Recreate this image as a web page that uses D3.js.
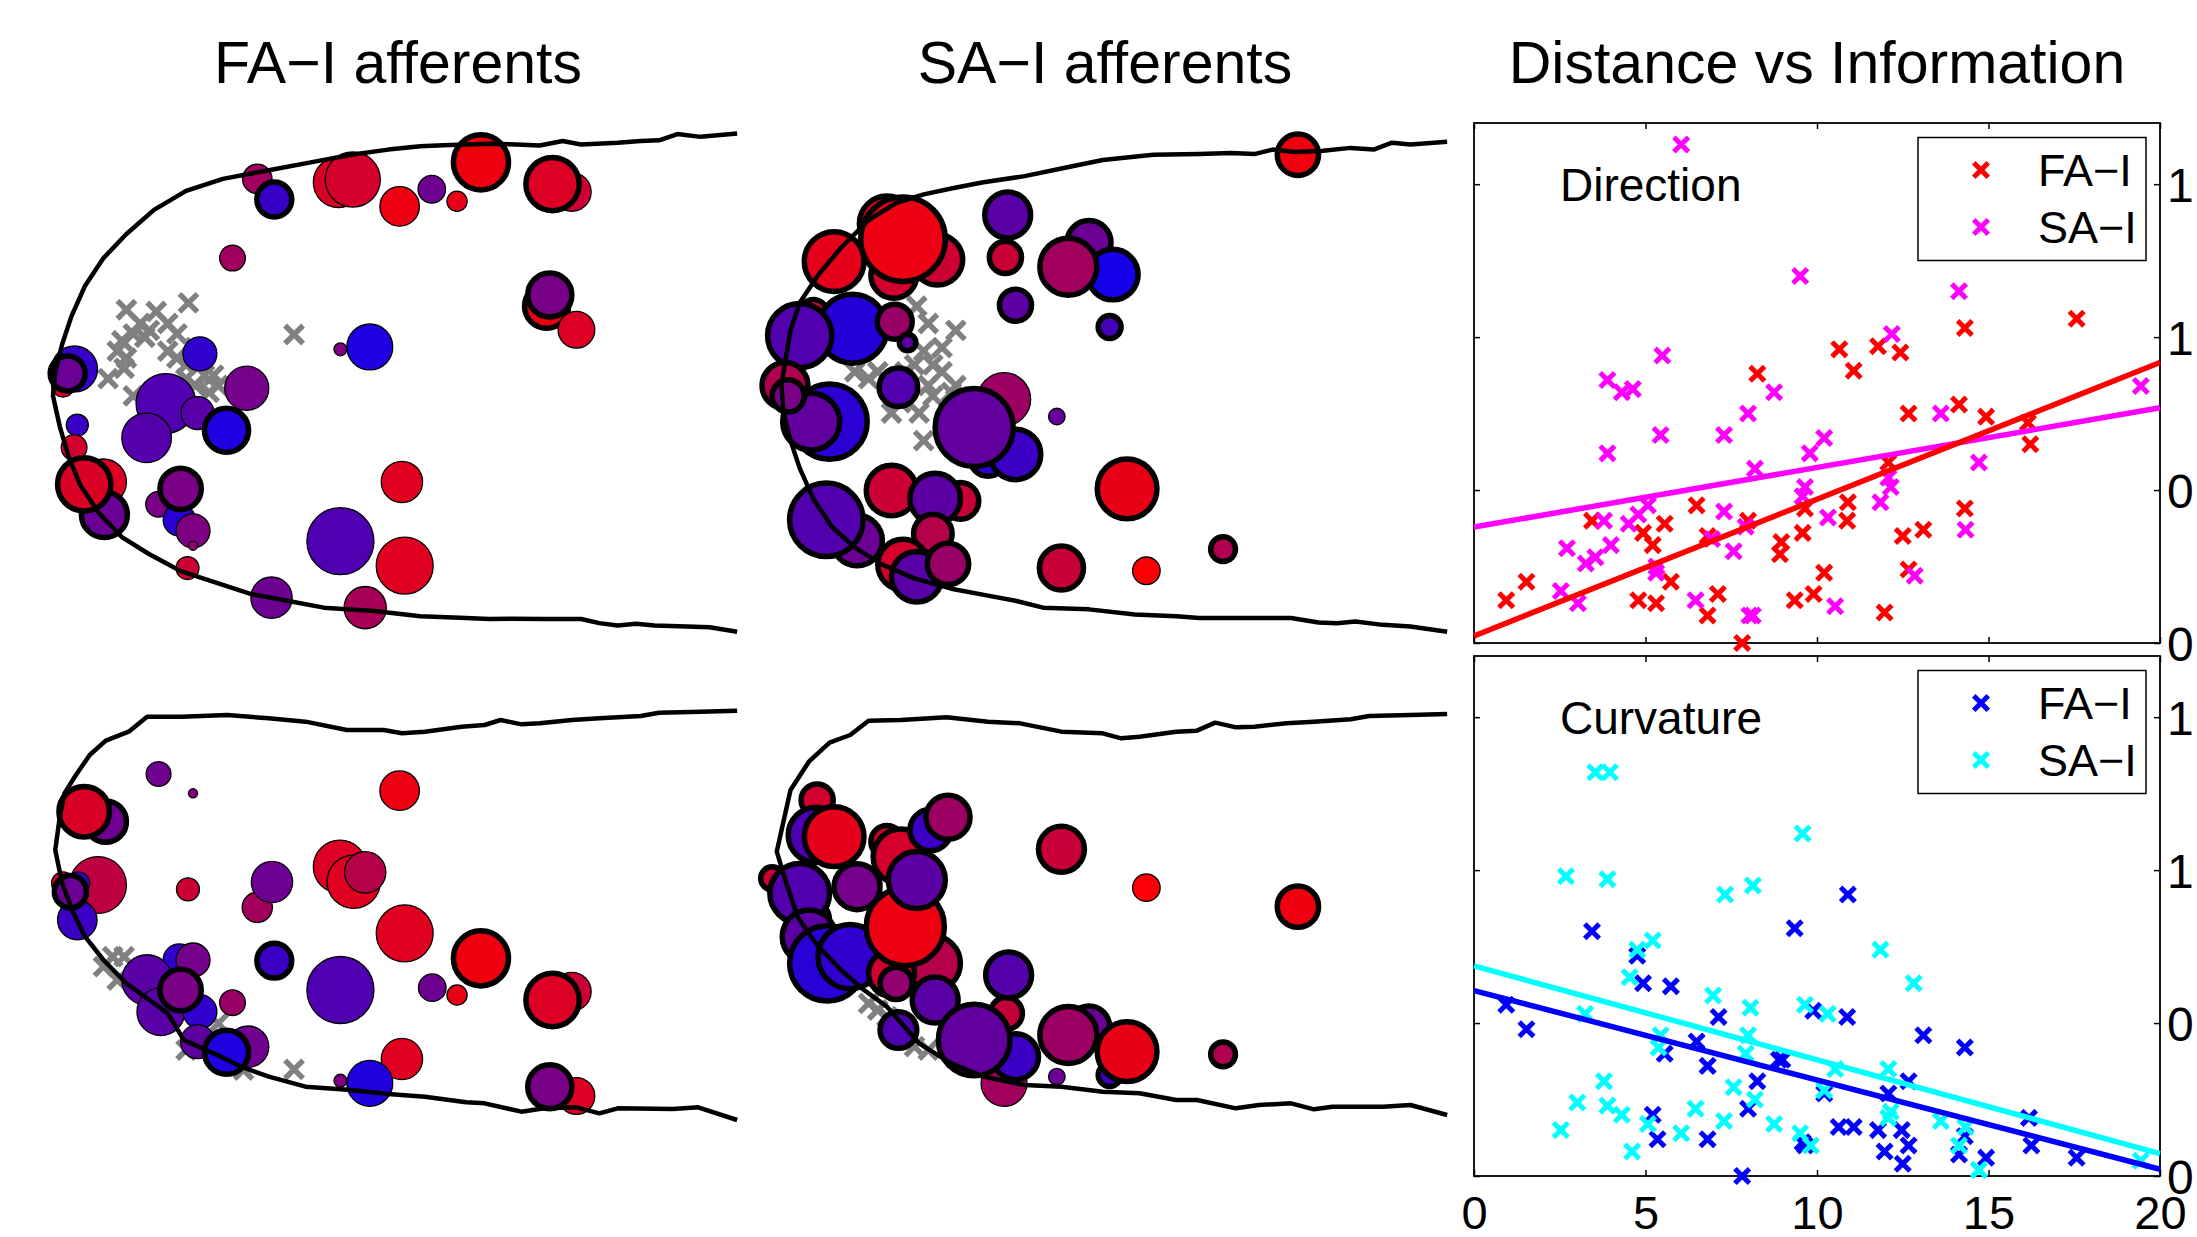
<!DOCTYPE html>
<html>
<head>
<meta charset="utf-8">
<style>
  body { margin: 0; background: white; overflow: hidden; }
  svg { display: block; background: white; }
  text { font-family: "Liberation Sans", Arial, Helvetica, sans-serif; fill: black; }
</style>
<script src="https://d3js.org/d3.v7.min.js"></script>
</head>
<body>
<script>
// ---------- receptive field maps (skin coordinates, arbitrary units) ----------
// each afferent: [x, y, radius (information), colour index 0 = blue .. 1 = red, thick outline]
const dirFA = [
  [49.5, 20.0, 3.2, 0.63, 0], [67.2, 21.0, 5.5, 0.85, 0], [70.3, 20.2, 6.0, 0.83, 0],
  [53.2, 26.0, 3.8, 0.22, 1], [80.5, 28.0, 4.3, 0.93, 0], [87.5, 23.0, 3.0, 0.43, 0],
  [93.0, 26.5, 2.2, 0.91, 0], [98.2, 15.2, 6.0, 0.94, 1], [118.0, 23.8, 4.2, 0.80, 0],
  [113.8, 21.5, 5.8, 0.86, 1], [44.1, 43.0, 2.8, 0.63, 0], [112.5, 57.0, 4.8, 0.91, 1],
  [113.2, 53.7, 4.8, 0.47, 1], [119.0, 63.8, 4.0, 0.86, 0], [74.0, 68.8, 5.0, 0.12, 0],
  [67.6, 69.5, 1.4, 0.50, 0], [37.0, 70.8, 3.7, 0.19, 0], [7.2, 80.0, 2.5, 0.82, 0],
  [9.7, 75.2, 5.0, 0.20, 0], [8.2, 76.5, 3.8, 0.42, 1], [47.2, 80.8, 4.8, 0.46, 0],
  [29.6, 85.2, 6.5, 0.31, 0], [36.5, 88.0, 3.6, 0.35, 0], [25.4, 95.2, 5.4, 0.33, 0],
  [42.8, 93.0, 4.8, 0.12, 1], [10.3, 91.5, 2.4, 0.22, 0], [9.6, 98.0, 2.8, 0.82, 0],
  [16.0, 108.0, 5.0, 0.86, 0], [16.2, 117.5, 5.0, 0.42, 1], [11.8, 108.7, 5.8, 0.85, 1],
  [28.0, 114.5, 2.8, 0.48, 0], [32.5, 119.0, 3.5, 0.17, 0], [32.8, 110.0, 4.5, 0.48, 1],
  [35.5, 122.2, 3.7, 0.49, 0], [35.5, 126.5, 1.0, 0.56, 0], [34.3, 133.0, 2.5, 0.80, 0],
  [67.6, 125.2, 7.3, 0.31, 0], [81.0, 108.0, 4.5, 0.88, 0], [81.6, 132.3, 6.2, 0.88, 0],
  [52.6, 141.6, 4.5, 0.43, 0], [73.0, 144.5, 4.6, 0.66, 0]
];
const dirSA = [
  [121.5, 13.0, 4.5, 0.94, 1], [58.3, 30.5, 5.0, 0.35, 1], [57.8, 42.8, 3.5, 0.79, 1],
  [76.0, 38.5, 4.8, 0.42, 1], [81.2, 47.8, 5.5, 0.08, 1], [71.5, 45.5, 6.2, 0.63, 1],
  [60.0, 56.7, 3.5, 0.36, 1], [80.5, 63.0, 2.5, 0.27, 1], [32.0, 33.0, 6.0, 0.90, 1],
  [20.5, 44.0, 6.5, 0.90, 1], [43.0, 43.5, 5.5, 0.80, 1], [33.5, 48.0, 5.0, 0.82, 1],
  [35.5, 37.5, 9.2, 0.93, 1], [16.0, 59.0, 3.0, 0.85, 1], [24.5, 63.5, 7.5, 0.15, 1],
  [13.0, 65.5, 7.0, 0.32, 1], [33.7, 61.5, 3.8, 0.60, 1], [36.5, 67.5, 1.8, 0.36, 1],
  [19.5, 90.5, 8.2, 0.17, 1], [15.5, 90.5, 6.2, 0.38, 1], [9.8, 80.0, 5.0, 0.69, 1],
  [10.5, 83.0, 3.5, 0.48, 1], [34.5, 80.5, 4.2, 0.32, 1], [57.5, 84.0, 5.8, 0.61, 0],
  [54.0, 101.0, 4.0, 0.19, 1], [60.0, 100.0, 5.5, 0.23, 1], [51.0, 92.2, 8.5, 0.38, 1],
  [69.0, 89.0, 1.8, 0.39, 0], [84.3, 110.0, 6.5, 0.91, 1], [33.0, 110.5, 5.5, 0.80, 1],
  [48.0, 113.5, 4.0, 0.78, 1], [42.5, 112.8, 5.5, 0.36, 1], [42.0, 123.0, 4.2, 0.71, 1],
  [25.5, 125.0, 5.5, 0.42, 1], [18.8, 119.0, 8.0, 0.32, 1], [35.5, 132.0, 5.5, 0.83, 1],
  [38.5, 135.5, 5.5, 0.35, 1], [45.3, 131.8, 4.5, 0.60, 1], [70.0, 133.0, 4.8, 0.78, 1],
  [88.5, 133.8, 3.0, 0.98, 0], [105.2, 127.5, 2.7, 0.69, 1]
];
const curvFA = [
  [28.0, 25.2, 2.7, 0.44, 0], [35.5, 31.0, 1.0, 0.50, 0], [80.5, 30.2, 4.3, 0.93, 0],
  [16.5, 39.5, 4.5, 0.43, 1], [11.8, 36.5, 5.5, 0.85, 1], [14.8, 58.5, 6.2, 0.75, 0],
  [7.2, 58.0, 2.5, 0.82, 0], [10.3, 69.0, 4.3, 0.23, 0], [10.5, 58.0, 2.5, 0.20, 0],
  [8.8, 60.5, 3.5, 0.42, 1], [34.4, 59.8, 2.5, 0.80, 0], [49.5, 65.2, 3.3, 0.64, 0],
  [52.7, 57.6, 4.5, 0.43, 0], [67.5, 53.0, 5.8, 0.86, 0], [70.5, 57.5, 5.8, 0.88, 0],
  [73.0, 54.7, 4.5, 0.71, 0], [81.6, 73.0, 6.2, 0.88, 0], [98.2, 80.5, 6.0, 0.94, 1],
  [118.0, 90.5, 4.2, 0.80, 0], [113.8, 93.0, 5.8, 0.86, 1], [87.6, 89.3, 3.0, 0.43, 0],
  [93.0, 91.5, 2.2, 0.91, 0], [67.6, 90.0, 7.3, 0.31, 0], [53.2, 81.2, 3.8, 0.23, 1],
  [32.5, 81.0, 3.5, 0.19, 0], [35.5, 81.0, 3.7, 0.46, 0], [25.5, 87.0, 5.5, 0.35, 0],
  [28.5, 96.5, 5.2, 0.35, 0], [37.0, 96.5, 3.7, 0.19, 0], [32.8, 90.0, 4.5, 0.48, 1],
  [44.1, 93.8, 2.8, 0.60, 0], [47.5, 107.0, 4.5, 0.44, 0], [36.5, 105.5, 3.7, 0.37, 0],
  [42.8, 108.7, 4.8, 0.12, 1], [81.0, 110.7, 4.5, 0.88, 0], [74.0, 118.0, 5.0, 0.13, 0],
  [67.6, 117.2, 1.4, 0.50, 0], [119.0, 121.8, 4.0, 0.86, 0], [113.2, 119.0, 4.8, 0.47, 1]
];
const curvSA = [
  [16.8, 33.0, 3.5, 0.82, 1], [16.5, 43.5, 6.0, 0.30, 1], [20.5, 44.0, 6.5, 0.90, 1],
  [7.0, 56.5, 2.5, 0.80, 1], [15.0, 69.0, 4.5, 0.85, 1], [25.5, 59.0, 5.0, 0.46, 1],
  [13.0, 61.0, 6.5, 0.32, 1], [15.0, 74.0, 5.8, 0.36, 1], [19.0, 82.0, 8.2, 0.16, 1],
  [24.0, 80.0, 7.0, 0.19, 1], [32.0, 45.5, 3.5, 0.82, 1], [35.0, 50.0, 6.0, 0.83, 1],
  [41.5, 42.0, 4.5, 0.23, 1], [45.3, 38.2, 4.8, 0.61, 1], [42.0, 82.0, 6.0, 0.71, 1],
  [33.0, 85.0, 5.0, 0.82, 1], [36.0, 71.0, 8.5, 0.93, 1], [38.5, 57.0, 6.2, 0.36, 1],
  [34.0, 88.0, 3.5, 0.57, 1], [42.5, 93.0, 5.0, 0.35, 1], [34.5, 102.0, 4.0, 0.31, 1],
  [58.0, 97.0, 3.5, 0.77, 1], [58.5, 85.5, 5.0, 0.33, 1], [57.5, 118.0, 5.0, 0.63, 0],
  [60.0, 110.0, 5.0, 0.23, 1], [51.0, 105.0, 7.8, 0.38, 1], [69.0, 116.0, 1.8, 0.42, 0],
  [76.0, 101.0, 4.5, 0.42, 1], [71.5, 103.5, 6.2, 0.61, 1], [80.5, 115.5, 2.5, 0.23, 1],
  [84.3, 108.5, 6.5, 0.91, 1], [70.0, 47.8, 5.0, 0.78, 1], [88.5, 59.3, 3.0, 0.98, 0],
  [121.5, 65.0, 4.5, 0.94, 1], [105.2, 109.3, 2.7, 0.69, 1]
];

// stimulus contact locations
const stimDirFA = [[21,58],[27.5,58.5],[34.5,56],[24,62],[26,64],[22.5,65],[30,62],[32,65],[20,67],
  [25,66],[19,70],[21,72],[17,78],[20.5,75],[30,70],[32,72],[36,69],[34,74],[38,77],[40,77],
  [41,80],[36,80],[39,82],[22.5,83],[57.5,65.2],[34,78]];
const stimDirSA = [[38.5,57],[41,62],[47,64],[44,69],[40,70],[42,74],[38,74],[44,76],[47,80],[41,80],
  [36,76],[30,76],[25,76],[28,78],[33,88],[39,88],[40,96],[42,83],[35,85],[46,82]];
const stimCurvFA = [[18,80],[20.5,80],[16,83],[19,87],[34,108],[41,100],[57.5,113.8],[46.5,114]];
const stimCurvSA = [[28,94],[32,98],[38,107],[41,108],[30,96]];

// fingertip outlines
const outlineDirFA = [[154,6.8],[146,7.8],[141,7],[137,8.8],[133,9],[128,9.5],[120,10],[116,9],[111,10.3],
  [106,10],[100,9.8],[90,10.2],[85,10.5],[78,11.5],[70,13],[62,15],[52,17.5],[42,20],[34,23.5],[27,29],
  [21,36],[16,43],[12,51],[9,60],[7,68],[5.5,76],[5,83],[6.5,92],[8.5,101],[11,109],[15,117],[20,124],
  [26,129],[33,134],[40,137],[48,140.5],[56,142.5],[64,144.5],[75,145.5],[85,147],[95,147.5],[100,147.8],
  [105,147.7],[112,147.8],[120,147.8],[124,149],[128,149.7],[132,149.2],[136,149.7],[143,150],[148,150.2],[154,151.5]];
const outlineDirSA = [[154,9.2],[146,10],[142,9.5],[138,11.5],[133,11],[127,11.8],[121,12.2],[116,11.5],
  [112,12.8],[107,12.5],[100,12.8],[90,13],[79,14.5],[70,17],[62,19.2],[53,21],[46,22.8],[40,24.5],[34,27],
  [28,32],[22,40],[17,48],[13,56],[11,64],[10,72],[9,80],[9.5,88],[11,96],[13,104],[16,113],[20,121],
  [25,127],[31,132],[38,136],[46,139],[54,141],[60,142.5],[66,144.5],[76,145],[86,146.5],[95,147],
  [100,147.5],[110,147.5],[120,147.5],[126,148.8],[130,149],[134,148.5],[140,149.5],[146,150],[154,151.5]];
const outlineCurvFA = [[154,6.2],[146,6.5],[137,6.8],[133,7.8],[124,8.5],[118,9],[111,10],[107,10.3],
  [102.5,9],[99,10.5],[94,11],[86,12.5],[81,13],[77,12],[69,12],[60,9.5],[52,8.5],[43,7.5],[33,8],
  [25.5,8],[21.5,12.5],[16.5,15.2],[13,19.5],[10,25.5],[7.5,31],[6.5,38],[5.5,48],[7,58],[9.5,67],[12,74],
  [16,81],[21,88],[26,93],[30,97],[33.5,105],[40,109],[46,113],[52,116],[60,119],[70,120],[78,121.2],
  [86,122],[95,123.7],[99,124],[107,126.5],[112,125.5],[119,125.2],[124,127],[128,125.5],[140,125.7],
  [145.5,125.2],[154,129]];
const outlineCurvSA = [[154,7.2],[146,7.5],[137,7.8],[133,8.8],[125,9.5],[119,10],[112,11],[108,11.2],
  [103.5,9.8],[99.5,12.2],[95,12.5],[87,14],[83,14.5],[79,13],[70,12.5],[61,10],[54,9.5],[45,8.2],[35,9],
  [28,9.2],[24,13.5],[19.5,15.8],[15,21.5],[11,30],[8,48.5],[10,57.5],[12.5,68],[16.5,76],[22,84],[27,90],
  [32,95],[39,106],[46,112],[53,116],[62,118.5],[70,119],[79,120.5],[87,121],[95,123],[99.5,123],
  [108,125.5],[113,124.5],[120,124],[125,125.8],[129,125],[140,125],[146,124.5],[154,127.5]];

// ---------- distance vs information ----------
// [distance, information]
const dirInfoFA = [[0.94,0.14],[1.53,0.20],[3.44,0.40],[4.79,0.14],[4.93,0.36],[5.21,0.32],[5.31,0.13],
  [5.56,0.39],[5.74,0.20],[6.49,0.45],[6.81,0.35],[6.81,0.09],[7.11,0.16],[7.82,0.00],[7.99,0.40],
  [8.26,0.88],[8.96,0.33],[8.92,0.29],[9.35,0.14],[9.58,0.36],[9.65,0.44],[9.90,0.16],[10.21,0.23],
  [10.65,0.96],[10.90,0.46],[10.88,0.40],[11.07,0.89],[11.78,0.97],[11.97,0.10],[12.08,0.59],
  [12.43,0.95],[12.50,0.35],[12.67,0.75],[12.67,0.24],[13.10,0.37],[14.14,0.78],[14.31,1.03],
  [14.31,0.44],[14.93,0.74],[16.15,0.72],[16.22,0.65],[17.57,1.06]];
const dirInfoSA = [[6.04,1.63],[9.51,1.20],[14.14,1.15],[12.18,1.01],[5.49,0.94],[3.89,0.86],[4.31,0.82],
  [4.63,0.83],[8.75,0.82],[7.99,0.75],[13.61,0.75],[19.44,0.84],[5.44,0.68],[7.29,0.68],[10.21,0.67],
  [3.89,0.62],[9.79,0.62],[8.19,0.57],[14.72,0.59],[12.08,0.54],[12.15,0.51],[9.65,0.51],[9.58,0.48],
  [5.07,0.45],[11.85,0.46],[4.79,0.42],[7.29,0.43],[3.79,0.40],[4.51,0.39],[10.32,0.41],[7.92,0.38],
  [14.33,0.37],[6.94,0.34],[3.99,0.32],[2.71,0.31],[7.57,0.30],[3.26,0.26],[3.54,0.28],[5.31,0.23],
  [5.32,0.25],[12.85,0.22],[2.53,0.17],[3.03,0.13],[6.46,0.14],[8.03,0.09],[8.13,0.09],[10.53,0.12]];
const curvInfoFA = [[0.94,0.56],[1.53,0.48],[3.44,0.80],[4.76,0.72],[4.93,0.63],[5.74,0.62],[5.56,0.40],
  [6.49,0.44],[6.81,0.36],[7.13,0.52],[5.21,0.20],[5.35,0.12],[6.81,0.12],[7.82,0.00],[7.99,0.22],
  [8.26,0.31],[8.89,0.38],[8.99,0.38],[9.35,0.81],[9.58,0.11],[9.65,0.10],[9.89,0.54],[10.21,0.27],
  [10.63,0.16],[10.90,0.92],[10.88,0.52],[11.07,0.16],[11.78,0.15],[11.97,0.08],[12.08,0.27],
  [12.47,0.15],[12.50,0.04],[12.67,0.31],[12.67,0.10],[13.10,0.46],[14.14,0.07],[14.31,0.42],
  [14.31,0.13],[14.93,0.06],[16.18,0.19],[16.25,0.10],[17.57,0.06]];
const curvInfoSA = [[3.54,1.32],[3.96,1.32],[9.58,1.12],[2.68,0.98],[3.89,0.97],[7.32,0.92],[8.13,0.95],
  [5.21,0.77],[4.76,0.74],[11.85,0.74],[4.54,0.65],[12.82,0.63],[6.97,0.59],[8.06,0.55],[9.65,0.56],
  [10.31,0.53],[3.24,0.53],[7.99,0.46],[5.44,0.46],[5.38,0.42],[7.92,0.40],[10.53,0.35],[12.08,0.35],
  [3.79,0.31],[7.57,0.29],[10.21,0.28],[8.19,0.25],[3.01,0.24],[3.89,0.23],[4.31,0.20],[6.46,0.22],
  [12.15,0.21],[12.08,0.19],[7.29,0.18],[5.07,0.17],[13.61,0.18],[8.75,0.17],[2.53,0.15],[6.04,0.14],
  [14.33,0.16],[9.51,0.14],[9.82,0.10],[14.14,0.10],[4.61,0.08],[14.72,0.02],[19.44,0.05]];

// linear fits: [intercept, slope]
const dirFitFA = [0.023, 0.0447];
const dirFitSA = [0.379, 0.0195];
const curvFitFA = [0.606, -0.0292];
const curvFitSA = [0.687, -0.0307];

const xTicks = [0, 5, 10, 15, 20];
const yTicks = [0, 0.5, 1, 1.5];
const titles = ["FA\u2212I afferents", "SA\u2212I afferents", "Distance vs Information"];
const legendLabels = ["FA\u2212I", "SA\u2212I"];

// ---------- drawing ----------
const W = 2197, H = 1237;
const svg = d3.select("body").append("svg").attr("width", W).attr("height", H);

const colour = d3.scaleLinear().domain([0, 1]).range(["#0000ff", "#ff0000"]);

function xPath(s) { return `M${-s},${-s}L${s},${s}M${-s},${s}L${s},${-s}`; }

function drawMap(circles, stims, outline, x0, y0, w, h, yMax) {
  const x = d3.scaleLinear().domain([0, 156.8]).range([x0, x0 + w]);
  const y = d3.scaleLinear().domain([0, yMax]).range([y0, y0 + h]);
  const g = svg.append("g");

  g.append("g").selectAll("path").data(stims).join("path")
    .attr("transform", d => `translate(${x(d[0])},${y(d[1])})`)
    .attr("d", xPath(9))
    .attr("fill", "none").attr("stroke", "#808080").attr("stroke-width", 5.5);

  g.append("g").selectAll("circle").data(circles).join("circle")
    .attr("cx", d => x(d[0]))
    .attr("cy", d => y(d[1]))
    .attr("r", d => x(d[2]) - x(0))
    .attr("fill", d => colour(d[3]))
    .attr("stroke", "#000")
    .attr("stroke-width", d => d[4] ? 5.5 : 1.3);

  const line = d3.line().x(d => x(d[0])).y(d => y(d[1]));
  g.append("path").attr("d", line(outline))
    .attr("fill", "none").attr("stroke", "#000")
    .attr("stroke-width", 4.5).attr("stroke-linejoin", "round");
}

drawMap(dirFA, stimDirFA, outlineDirFA, 30, 110, 720, 540, 156.8);
drawMap(dirSA, stimDirSA, outlineDirSA, 740, 110, 720, 540, 156.8);
drawMap(curvFA, stimCurvFA, outlineCurvFA, 30, 690, 720, 480, 144);
drawMap(curvSA, stimCurvSA, outlineCurvSA, 740, 690, 720, 480, 144);

// scatter panels
const sx = d3.scaleLinear().domain([0, 20]).range([1474, 2160]);

function drawScatter(top, bottom, fa, sa, fitFA, fitSA, cFA, cSA, label, showX) {
  const sy = d3.scaleLinear().domain([0, 1.7]).range([bottom, top]);
  const g = svg.append("g");
  const tick = 6;

  const styleAxis = a => {
    a.select(".domain").remove();
    a.selectAll(".tick line").attr("stroke", "#000").attr("stroke-width", 1.5);
    a.selectAll("text").attr("font-size", 47)
      .attr("font-family", "Liberation Sans, Arial, sans-serif").attr("fill", "#000");
  };

  g.append("g").attr("transform", `translate(${sx.range()[1]},0)`)
    .call(d3.axisRight(sy).tickValues(yTicks).tickSize(-tick).tickPadding(7))
    .call(styleAxis)
    .selectAll("text").attr("font-size", 48).attr("dy", "0.36em");
  g.append("g").attr("transform", `translate(${sx.range()[0]},0)`)
    .call(d3.axisLeft(sy).tickValues(yTicks).tickSize(-tick).tickFormat(""))
    .call(styleAxis);
  g.append("g").attr("transform", `translate(0,${top})`)
    .call(d3.axisTop(sx).tickValues(xTicks).tickSize(-tick).tickFormat(""))
    .call(styleAxis);
  const xb = g.append("g").attr("transform", `translate(0,${bottom})`)
    .call(d3.axisBottom(sx).tickValues(xTicks).tickSize(-tick).tickPadding(20)
      .tickFormat(showX ? d3.format("d") : ""))
    .call(styleAxis);
  xb.selectAll("text").attr("dy", "0.71em");

  g.append("rect")
    .attr("x", sx.range()[0]).attr("y", top)
    .attr("width", sx.range()[1] - sx.range()[0]).attr("height", bottom - top)
    .attr("fill", "none").attr("stroke", "#000").attr("stroke-width", 1.8);

  const marks = (data, c) => g.append("g").selectAll("path").data(data).join("path")
    .attr("transform", d => `translate(${sx(d[0])},${sy(d[1])})`)
    .attr("d", xPath(5.5))
    .attr("fill", "none").attr("stroke", c).attr("stroke-width", 5)
    .attr("stroke-linecap", "square");
  marks(fa, cFA);
  marks(sa, cSA);

  const fitLine = (fit, c) => g.append("line")
    .attr("x1", sx(0)).attr("y1", sy(fit[0]))
    .attr("x2", sx(20)).attr("y2", sy(fit[0] + fit[1] * 20))
    .attr("stroke", c).attr("stroke-width", 5.5);
  fitLine(fitSA, cSA);
  fitLine(fitFA, cFA);

  g.append("text").attr("x", 1560).attr("y", top + 78)
    .attr("font-size", 46).text(label);

  // legend
  const lg = g.append("g");
  lg.append("rect").attr("x", 1918).attr("y", top + 14.5)
    .attr("width", 228).attr("height", 123)
    .attr("fill", "white").attr("stroke", "#000").attr("stroke-width", 1.5);
  [[cFA, legendLabels[0]], [cSA, legendLabels[1]]].forEach((e, i) => {
    const yy = top + 47 + i * 57;
    lg.append("path").attr("transform", `translate(1981,${yy})`)
      .attr("d", xPath(5.5)).attr("fill", "none").attr("stroke", e[0]).attr("stroke-width", 5)
      .attr("stroke-linecap", "square");
    lg.append("text").attr("x", 2038).attr("y", yy).attr("dy", "0.36em")
      .attr("font-size", 45).text(e[1]);
  });
}

drawScatter(123, 643, dirInfoFA, dirInfoSA, dirFitFA, dirFitSA, "#ff0000", "#ff00ff", "Direction", false);
drawScatter(656, 1176, curvInfoFA, curvInfoSA, curvFitFA, curvFitSA, "#0000ff", "#00ffff", "Curvature", true);

// titles
svg.selectAll("text.title").data(titles).join("text")
  .attr("class", "title")
  .attr("x", (d, i) => [398, 1105, 1817][i])
  .attr("y", 83)
  .attr("text-anchor", "middle")
  .attr("font-size", 59)
  .text(d => d);
</script>
</body>
</html>
